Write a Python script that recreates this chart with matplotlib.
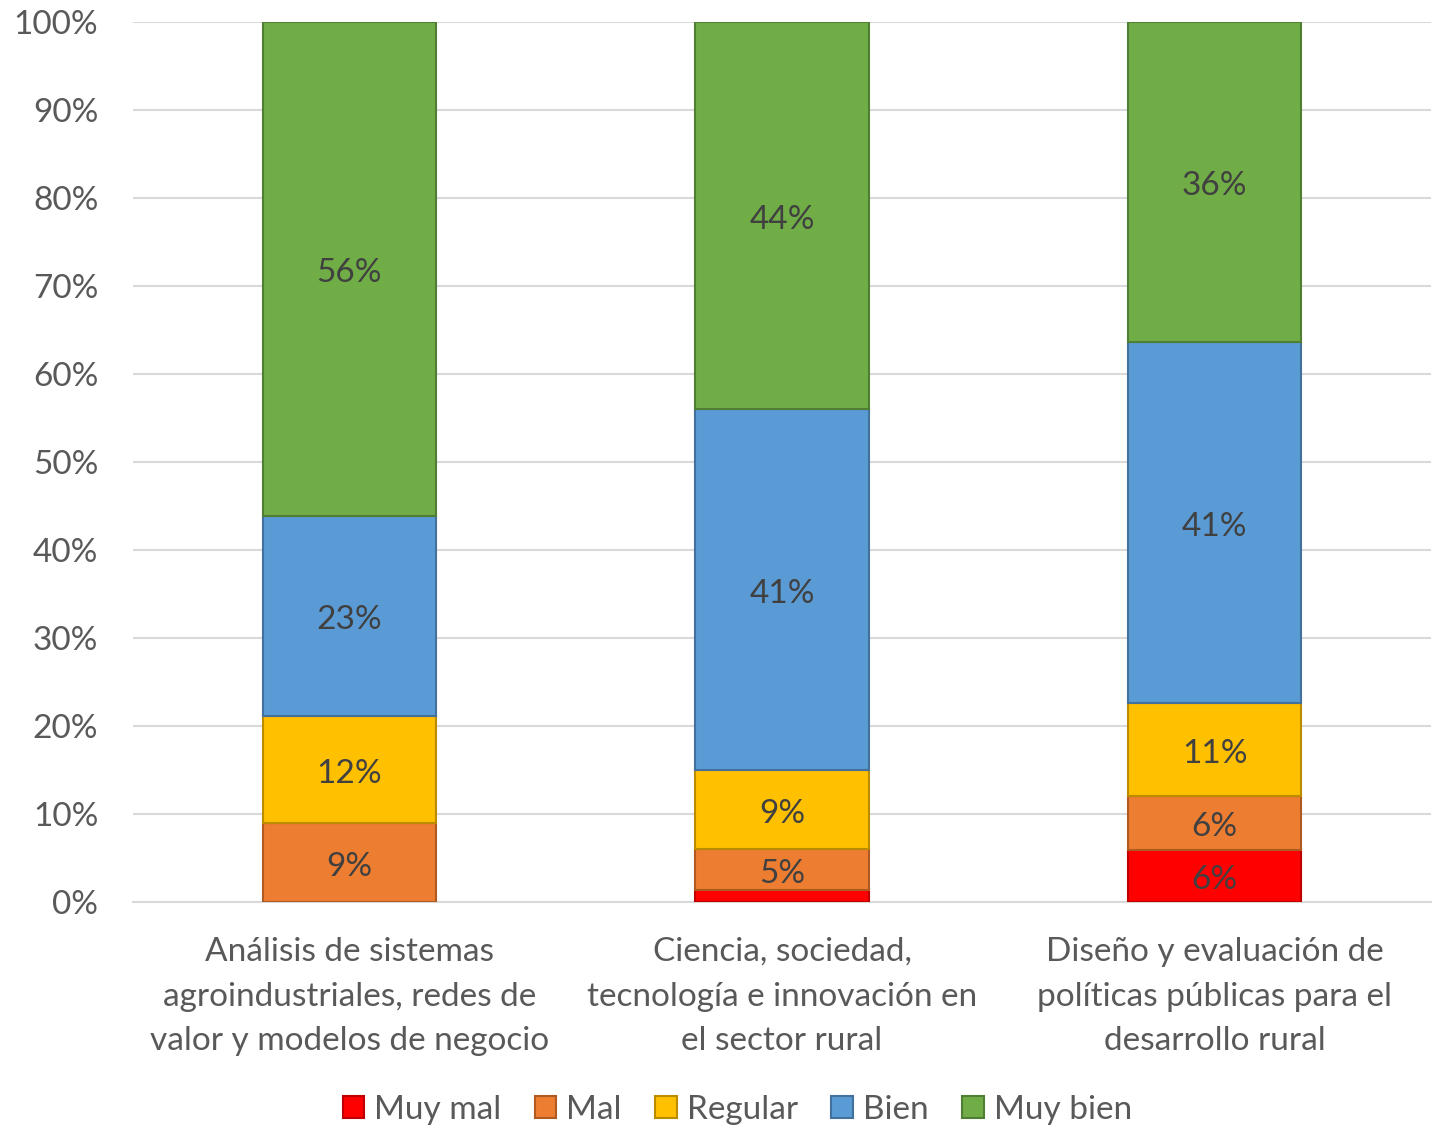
import matplotlib
matplotlib.use("Agg")
import matplotlib.pyplot as plt
import numpy as np

plt.rcParams['font.family'] = ['Lato', 'DejaVu Sans']

categories = ["Análisis de sistemas\nagroindustriales, redes de\nvalor y modelos de negocio",
              "Ciencia, sociedad,\ntecnología e innovación en\nel sector rural",
              "Diseño y evaluación de\npolíticas públicas para el\ndesarrollo rural"]
series = ["Muy mal", "Mal", "Regular", "Bien", "Muy bien"]
muy_mal = [0.0, 1.4, 5.9]
mal = [9.0, 4.6, 6.1]
regular = [12.1, 9.0, 10.6]
bien = [22.8, 41.0, 41.0]
muy_bien = [56.1, 44.0, 36.4]
labels_shown = [[False, False, True], [True, True, True], [True, True, True], [True, True, True], [True, True, True]]

colors = ["#FF0000", "#ED7D31", "#FFC000", "#5B9BD5", "#70AD47"]
edges = ["#C00000", "#AE5A21", "#BC8C00", "#41719C", "#507E32"]

fig = plt.figure(figsize=(14.37, 11.29), dpi=100)
ax = fig.add_axes([0.0926, 0.2011, 0.9032, 0.7794])

x = np.arange(len(categories))
data = [muy_mal, mal, regular, bien, muy_bien]
bottom = np.zeros(len(categories))
FS = 24
for i, (name, vals) in enumerate(zip(series, data)):
    vals = np.array(vals)
    ax.bar(x, vals, 0.40, bottom=bottom, color=colors[i], edgecolor=edges[i],
           linewidth=1.5, label=name, zorder=3)
    for j, v in enumerate(vals):
        if v > 0 and labels_shown[i][j]:
            ax.annotate(f"{round(v):.0f}%", (x[j], bottom[j] + v / 2), xytext=(0, -3),
                        textcoords='offset points', ha='center', va='center',
                        fontsize=FS, color='#404040', zorder=4)
    bottom += vals

ax.set_xlim(-0.5, 2.5)
ax.set_ylim(0, 100)
ax.set_yticks(np.arange(0, 101, 10))
ax.set_yticklabels([f"{t}%" for t in range(0, 101, 10)], fontsize=FS, color='#595959')
ax.set_xticks(x)
ax.set_xticklabels(categories, fontsize=FS, color='#595959', linespacing=1.62)
ax.yaxis.grid(True, color='#D9D9D9', linewidth=1.5, zorder=0)
ax.tick_params(axis='x', length=0, pad=25)
ax.tick_params(axis='y', length=0, pad=25)
for s in ['top', 'right', 'left']:
    ax.spines[s].set_visible(False)
ax.spines['bottom'].set_color('#D9D9D9')
ax.spines['bottom'].set_linewidth(1.5)

handles, lbls = ax.get_legend_handles_labels()
leg = fig.legend(handles, lbls, loc='center', bbox_to_anchor=(0.513, 0.017), ncol=5, frameon=False,
                 fontsize=FS, handlelength=0.65, handleheight=0.65, handletextpad=0.3, columnspacing=1.0)
for t in leg.get_texts():
    t.set_color('#595959')

fig.savefig("out.png", dpi=100)
